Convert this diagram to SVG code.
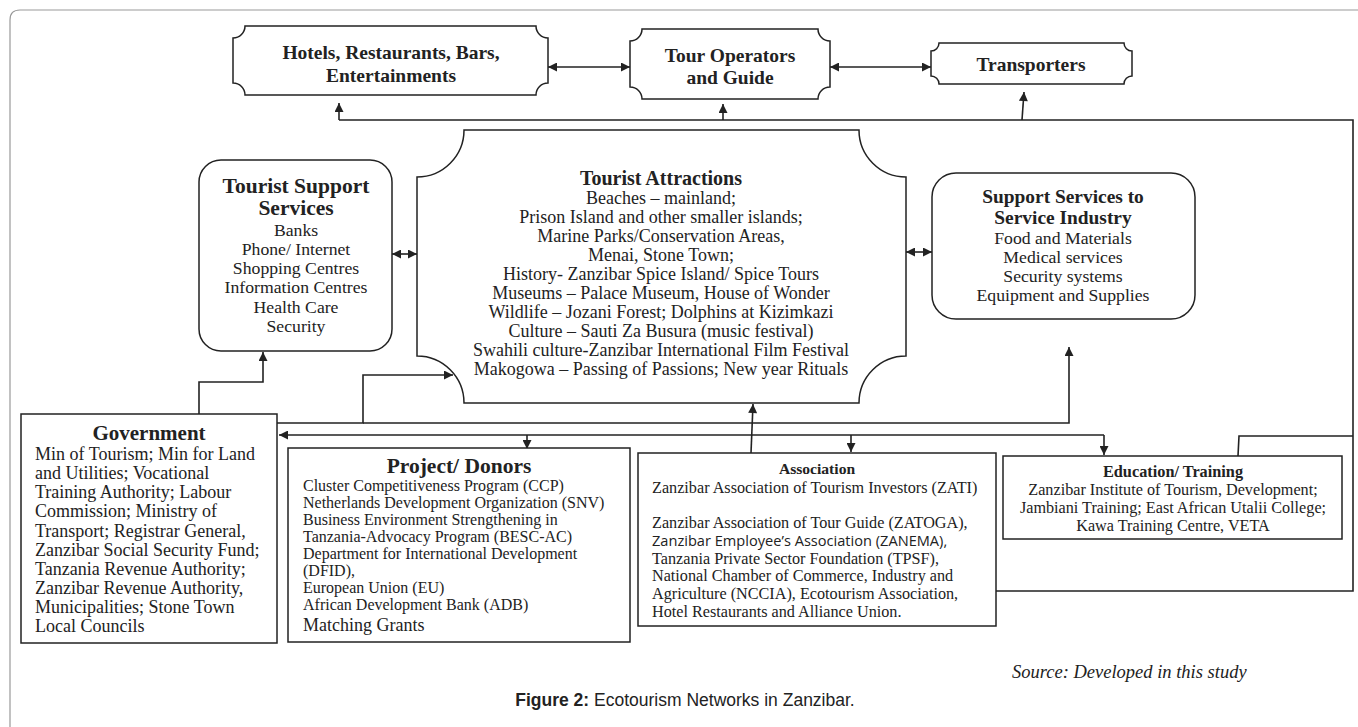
<svg xmlns="http://www.w3.org/2000/svg" width="1358" height="727" viewBox="0 0 1358 727">
<style>
.box{fill:#fff;stroke:#222;stroke-width:1.5}
.ln{fill:none;stroke:#222;stroke-width:1.6}
.arr{marker-end:url(#ah)}
.dbl{marker-start:url(#ah);marker-end:url(#ah)}
text{font-family:"Liberation Serif","Times New Roman",serif;fill:#222}
.b{font-weight:bold}
.c{text-anchor:middle}
</style>
<defs>
<marker id="ah" viewBox="0 0 10 10" refX="10" refY="5" markerWidth="10" markerHeight="9" markerUnits="userSpaceOnUse" orient="auto-start-reverse">
<path d="M0,0 L10,5 L0,10 z" fill="#222"/>
</marker>
</defs>
<rect width="1358" height="727" fill="#fff"/>
<path d="M10,740 V20 Q10,10 20,10 H1370" fill="none" stroke="#999" stroke-width="1.2"/>

<g id="connectors">
<path class="ln" d="M339,120 H1353 V591 H996"/>
<path class="ln arr" d="M339,120 V103"/>
<path class="ln arr" d="M723,120 V104"/>
<path class="ln arr" d="M1022,120 L1024,92"/>
<path class="ln" d="M1238,456 L1239,436 H1353"/>
<path class="ln arr" d="M199,414 V382 H263 V352"/>
<path class="ln arr" d="M277,423 H363 V375 H453"/>
<path class="ln arr" d="M363,423 H1069 V347"/>
<path class="ln arr" d="M1104,435 H279"/>
<path class="ln arr" d="M527,435 V449"/>
<path class="ln arr" d="M851,435 V452"/>
<path class="ln arr" d="M1104,435 V455"/>
<path class="ln arr" d="M751,453 L753,404"/>
<path class="ln dbl" d="M392,254 H417"/>
<path class="ln dbl" d="M906,252 H932"/>
<path class="ln dbl" d="M548,67 H630"/>
<path class="ln dbl" d="M830,67 H931"/>
</g>

<g id="hotels">
<path class="box" d="M245,26 H536 A12 12 0 0 0 548,38 V83 A12 12 0 0 0 536,95 H245 A12 12 0 0 0 233,83 V38 A12 12 0 0 0 245,26 Z"/>
<text class="b c" x="391" y="59" font-size="19.5">Hotels, Restaurants, Bars,</text>
<text class="b c" x="391" y="82" font-size="19.5">Entertainments</text>
</g>

<g id="tour-operators">
<path class="box" d="M642,29 H818 A12 12 0 0 0 830,41 V87 A12 12 0 0 0 818,99 H642 A12 12 0 0 0 630,87 V41 A12 12 0 0 0 642,29 Z"/>
<text class="b c" x="730" y="62" font-size="19.5">Tour Operators</text>
<text class="b c" x="730" y="84" font-size="19.5">and Guide</text>
</g>

<g id="transporters">
<path class="box" d="M939,43 H1124 A8 8 0 0 0 1132,51 V76 A8 8 0 0 0 1124,84 H939 A8 8 0 0 0 931,76 V51 A8 8 0 0 0 939,43 Z"/>
<text class="b c" x="1031" y="71" font-size="19.5">Transporters</text>
</g>

<g id="tourist-support">
<rect class="box" x="199" y="160" width="193" height="191" rx="22"/>
<text class="b c" x="296" y="193" font-size="21.5">Tourist Support</text>
<text class="b c" x="296" y="215" font-size="21.5">Services</text>
<text class="c" x="296" y="236" font-size="17.7">Banks</text>
<text class="c" x="296" y="255" font-size="17.7">Phone/ Internet</text>
<text class="c" x="296" y="274" font-size="17.7">Shopping Centres</text>
<text class="c" x="296" y="293" font-size="17.7">Information Centres</text>
<text class="c" x="296" y="313" font-size="17.7">Health Care</text>
<text class="c" x="296" y="332" font-size="17.7">Security</text>
</g>

<g id="tourist-attractions">
<path class="box" d="M464,130 H859 A47 47 0 0 0 906,177 V356 A47 47 0 0 0 859,403 H464 A47 47 0 0 0 417,356 V177 A47 47 0 0 0 464,130 Z"/>
<text class="b c" x="661" y="185" font-size="20">Tourist Attractions</text>
<text class="c" x="661" y="204" font-size="18">Beaches – mainland;</text>
<text class="c" x="661" y="223" font-size="18">Prison Island and other smaller islands;</text>
<text class="c" x="661" y="242" font-size="18">Marine Parks/Conservation Areas,</text>
<text class="c" x="661" y="261" font-size="18">Menai, Stone Town;</text>
<text class="c" x="661" y="280" font-size="18">History- Zanzibar Spice Island/ Spice Tours</text>
<text class="c" x="661" y="299" font-size="18">Museums – Palace Museum, House of Wonder</text>
<text class="c" x="661" y="318" font-size="18">Wildlife – Jozani Forest; Dolphins at Kizimkazi</text>
<text class="c" x="661" y="337" font-size="18">Culture – Sauti Za Busura (music festival)</text>
<text class="c" x="661" y="356" font-size="18">Swahili culture-Zanzibar International Film Festival</text>
<text class="c" x="661" y="375" font-size="18">Makogowa – Passing of Passions; New year Rituals</text>
</g>

<g id="support-services">
<rect class="box" x="932" y="173" width="263" height="146" rx="24"/>
<text class="b c" x="1063" y="203" font-size="19.4">Support Services to</text>
<text class="b c" x="1063" y="224" font-size="19.4">Service Industry</text>
<text class="c" x="1063" y="244" font-size="17.7">Food and Materials</text>
<text class="c" x="1063" y="263" font-size="17.7">Medical services</text>
<text class="c" x="1063" y="282" font-size="17.7">Security systems</text>
<text class="c" x="1063" y="301" font-size="17.7">Equipment and Supplies</text>
</g>

<g id="government">
<rect class="box" x="21" y="414" width="256" height="229"/>
<text class="b c" x="149" y="440" font-size="21">Government</text>
<text x="35" y="460" font-size="18">Min of Tourism; Min for Land</text>
<text x="35" y="479" font-size="18">and Utilities; Vocational</text>
<text x="35" y="498" font-size="18">Training Authority; Labour</text>
<text x="35" y="517" font-size="18">Commission; Ministry of</text>
<text x="35" y="537" font-size="18">Transport; Registrar General,</text>
<text x="35" y="556" font-size="18">Zanzibar Social Security Fund;</text>
<text x="35" y="575" font-size="18">Tanzania Revenue Authority;</text>
<text x="35" y="594" font-size="18">Zanzibar Revenue Authority,</text>
<text x="35" y="613" font-size="18">Municipalities; Stone Town</text>
<text x="35" y="632" font-size="18">Local Councils</text>
</g>

<g id="project-donors">
<rect class="box" x="288" y="448" width="342" height="194"/>
<text class="b c" x="459" y="473" font-size="21.5">Project/ Donors</text>
<text x="303" y="491" font-size="16">Cluster Competitiveness Program (CCP)</text>
<text x="303" y="508" font-size="16">Netherlands Development Organization (SNV)</text>
<text x="303" y="525" font-size="16">Business Environment Strengthening in</text>
<text x="303" y="542" font-size="16">Tanzania-Advocacy Program (BESC-AC)</text>
<text x="303" y="559" font-size="16">Department for International Development</text>
<text x="303" y="576" font-size="16">(DFID),</text>
<text x="303" y="593" font-size="16">European Union (EU)</text>
<text x="303" y="610" font-size="16">African Development Bank (ADB)</text>
<text x="303" y="631" font-size="18">Matching Grants</text>
</g>

<g id="association">
<rect class="box" x="638" y="453" width="358" height="173"/>
<text class="b c" x="817" y="474" font-size="15.6">Association</text>
<text x="652" y="493" font-size="16.2">Zanzibar Association of Tourism Investors (ZATI)</text>
<text x="652" y="528" font-size="16.2">Zanzibar Association of Tour Guide (ZATOGA),</text>
<text x="652" y="546" font-size="14.6" style="font-family:'Open Sans','Liberation Sans',sans-serif">Zanzibar Employee’s Association (ZANEMA),</text>
<text x="652" y="564" font-size="16.2">Tanzania Private Sector Foundation (TPSF),</text>
<text x="652" y="581" font-size="16.2">National Chamber of Commerce, Industry and</text>
<text x="652" y="599" font-size="16.2">Agriculture (NCCIA), Ecotourism Association,</text>
<text x="652" y="617" font-size="16.2">Hotel Restaurants and Alliance Union.</text>
</g>

<g id="education">
<rect class="box" x="1003" y="456" width="339" height="83"/>
<text class="b c" x="1173" y="477" font-size="16.3">Education/ Training</text>
<text class="c" x="1173" y="495" font-size="16.2">Zanzibar Institute of Tourism, Development;</text>
<text class="c" x="1173" y="513" font-size="16.2">Jambiani Training; East African Utalii College;</text>
<text class="c" x="1173" y="531" font-size="16.2">Kawa Training Centre, VETA</text>
</g>

<text x="1012" y="678" font-size="18.5" font-style="italic">Source: Developed in this study</text>
<text class="c" x="685" y="706" font-size="17.5" style="font-family:'Liberation Sans',Arial,sans-serif"><tspan font-weight="bold">Figure 2:</tspan> Ecotourism Networks in Zanzibar.</text>
</svg>
